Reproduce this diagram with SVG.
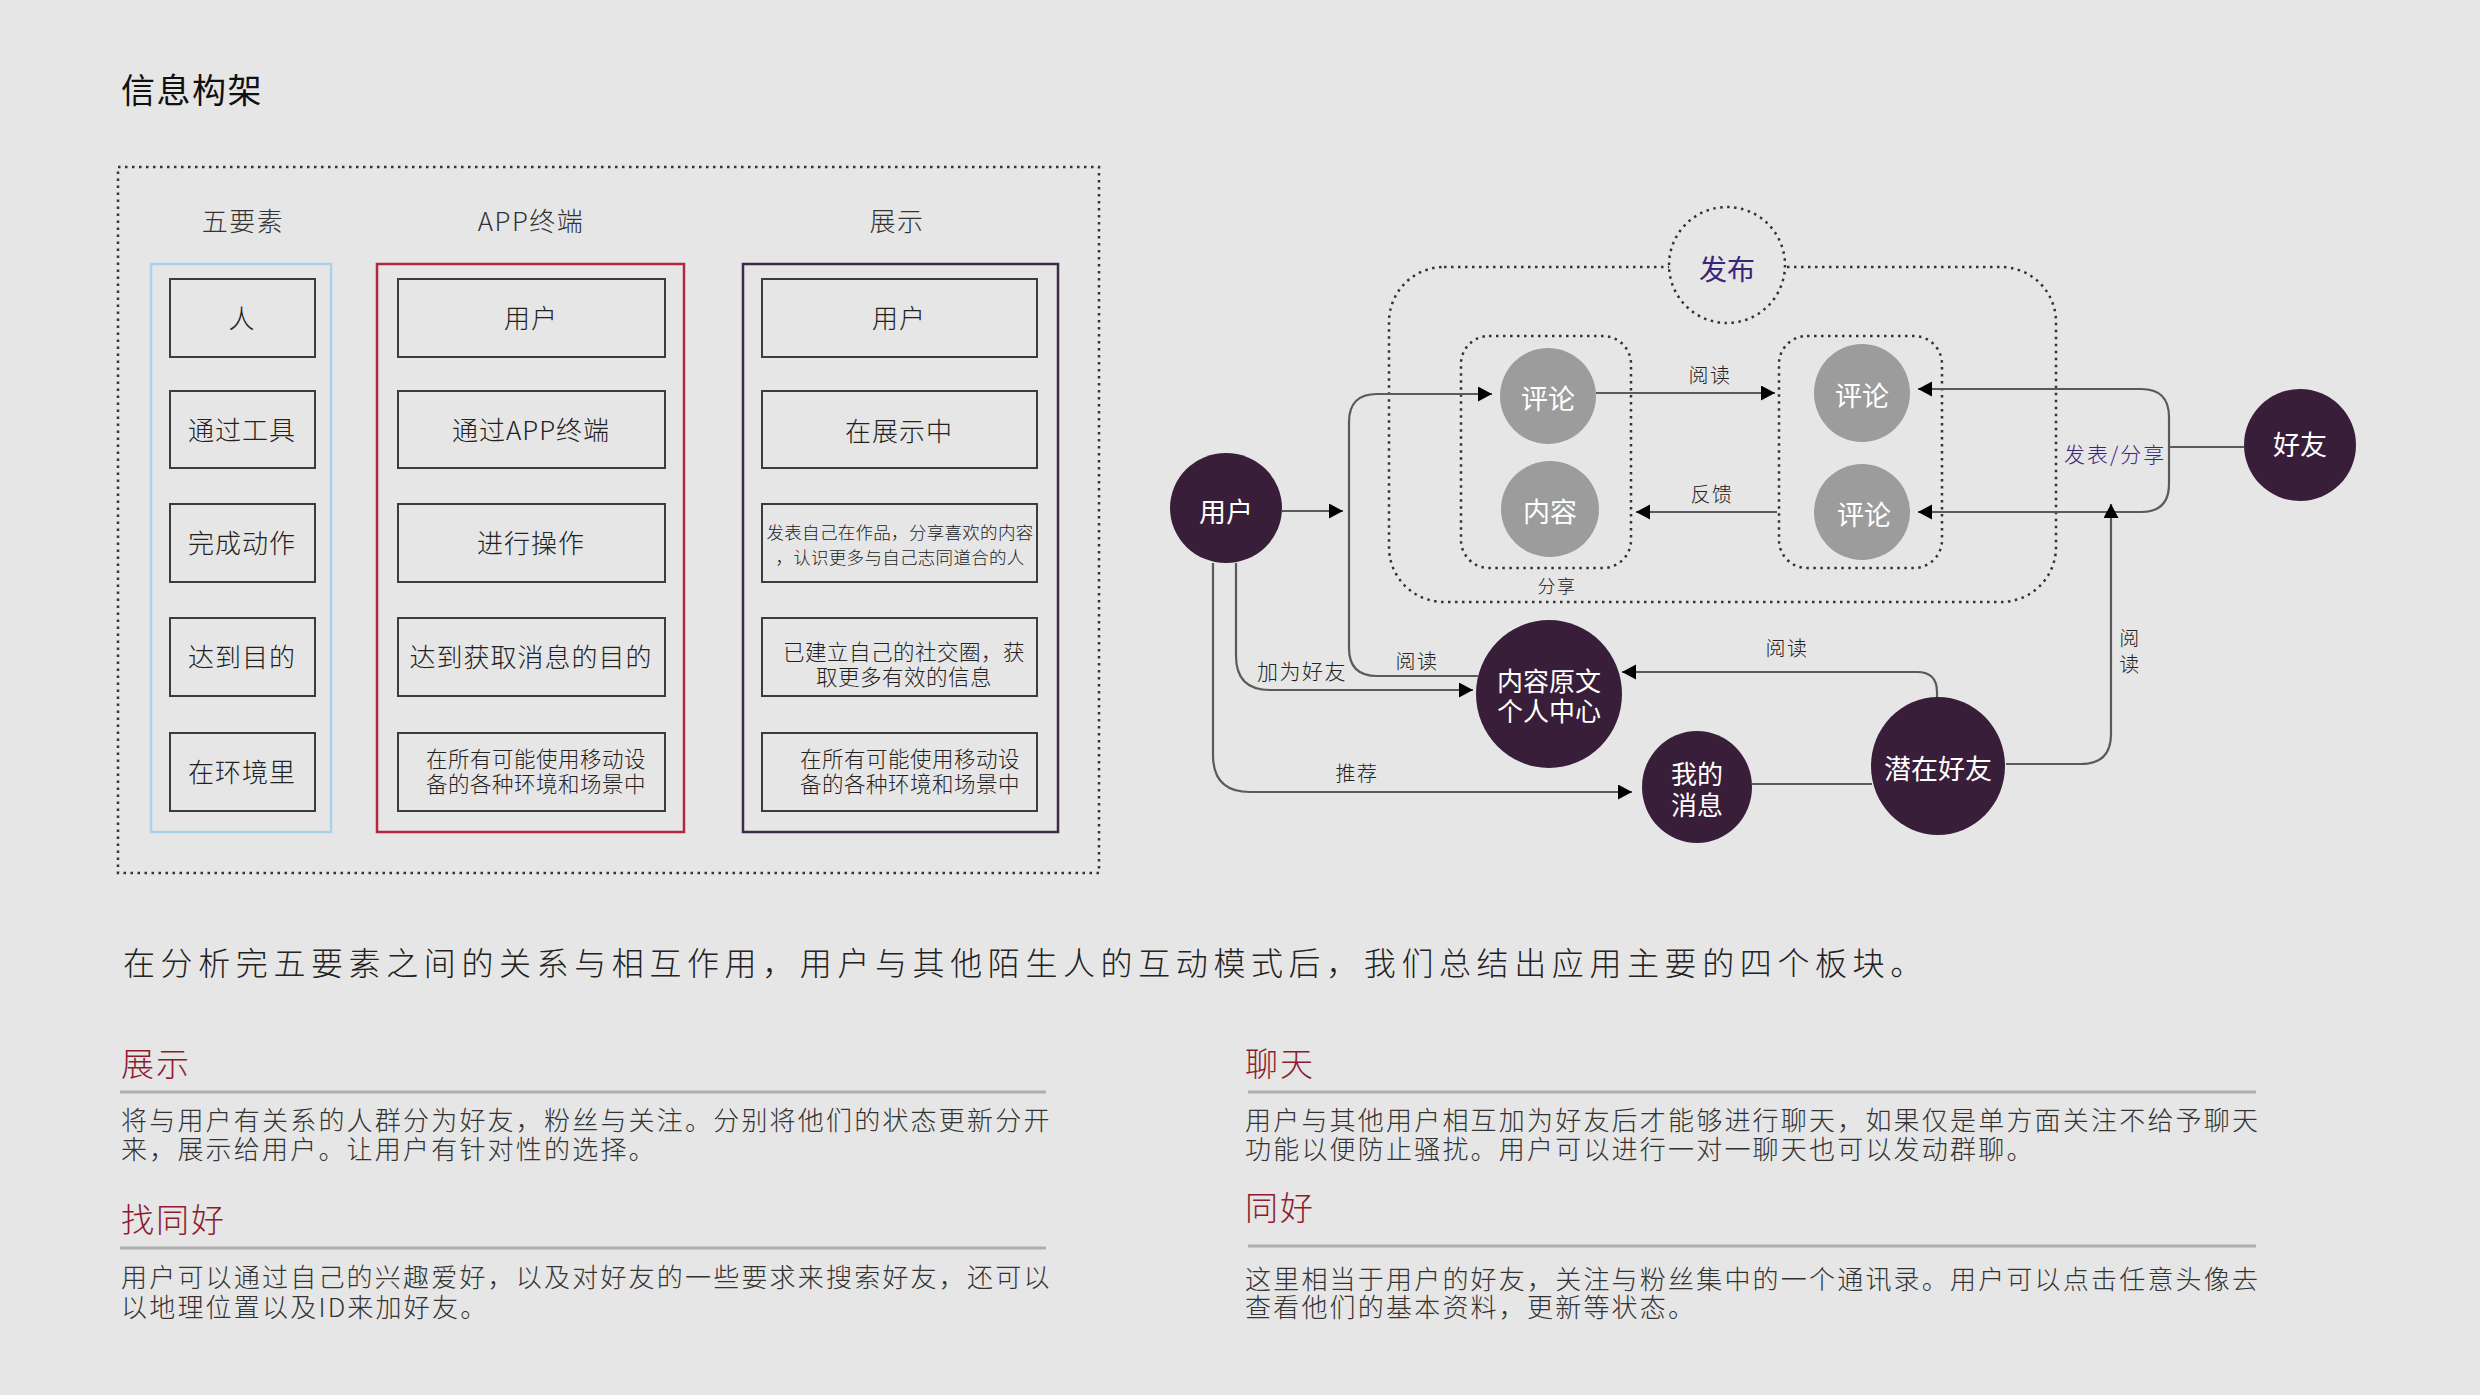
<svg xmlns="http://www.w3.org/2000/svg" width="2480" height="1395" viewBox="0 0 2480 1395">
<defs>
<style>
text{font-family:"Noto Sans CJK SC","Noto Sans",sans-serif;dominant-baseline:central;font-weight:300;}
.hdr{font-size:26px;letter-spacing:1.5px;fill:#333;text-anchor:middle;}
.bx{fill:none;stroke:#3c3c3c;stroke-width:2;}
.bt{font-size:26px;letter-spacing:1px;fill:#222;text-anchor:middle;}
.bs{font-size:21.5px;letter-spacing:0.5px;fill:#222;text-anchor:middle;}
.dot{fill:none;stroke:#333;stroke-width:2.5;stroke-dasharray:2.5 4.5;}
.dk{fill:#391e3a;}
.gr{fill:#9c9c9c;}
.wt{fill:#fff;font-size:27px;text-anchor:middle;font-weight:400;}
.w2{fill:#fff;font-size:26px;text-anchor:middle;font-weight:400;}
.cn{fill:none;stroke:#5a5a5a;stroke-width:2.2;}
.lb{font-size:20px;letter-spacing:1.5px;fill:#222;text-anchor:middle;}
.h2{font-size:33px;letter-spacing:2px;fill:#8c1c2e;}
.p{font-size:26px;letter-spacing:2.2px;fill:#333;}
.sep{stroke:#aeaeae;stroke-width:3;}
</style>
<marker id="ar" markerUnits="userSpaceOnUse" markerWidth="15" markerHeight="16" refX="14" refY="7.5" orient="auto">
<path d="M0,0 L14,7.5 L0,15 z" fill="#000"/>
</marker>
</defs>
<rect width="2480" height="1395" fill="#e6e6e6"/>

<text x="121" y="88" font-size="34" letter-spacing="1.5" fill="#111" style="font-weight:400">信息构架</text>

<g id="panel">
<rect x="118" y="167" width="981" height="706" class="dot"/>
<text x="243" y="219" class="hdr">五要素</text>
<text x="531" y="219" class="hdr">APP终端</text>
<text x="897" y="219" class="hdr">展示</text>
<rect x="151" y="264" width="180" height="568" fill="none" stroke="#a9d2ec" stroke-width="2.5"/>
<rect x="377" y="264" width="307" height="568" fill="none" stroke="#b3283d" stroke-width="2.5"/>
<rect x="743" y="264" width="315" height="568" fill="none" stroke="#3b2a48" stroke-width="2.5"/>
</g>

<g id="col1">
<rect x="170" y="279" width="145" height="78" class="bx"/><text x="242" y="316" class="bt">人</text>
<rect x="170" y="391" width="145" height="77" class="bx"/><text x="242" y="428" class="bt">通过工具</text>
<rect x="170" y="504" width="145" height="78" class="bx"/><text x="242" y="541" class="bt">完成动作</text>
<rect x="170" y="618" width="145" height="78" class="bx"/><text x="242" y="655" class="bt">达到目的</text>
<rect x="170" y="733" width="145" height="78" class="bx"/><text x="242" y="770" class="bt">在环境里</text>
</g>
<g id="col2">
<rect x="398" y="279" width="267" height="78" class="bx"/><text x="531" y="316" class="bt">用户</text>
<rect x="398" y="391" width="267" height="77" class="bx"/><text x="531" y="428" class="bt">通过APP终端</text>
<rect x="398" y="504" width="267" height="78" class="bx"/><text x="531" y="541" class="bt">进行操作</text>
<rect x="398" y="618" width="267" height="78" class="bx"/><text x="531" y="655" class="bt">达到获取消息的目的</text>
<rect x="398" y="733" width="267" height="78" class="bx"/>
<text x="536" y="757" class="bs">在所有可能使用移动设</text>
<text x="536" y="782" class="bs">备的各种环境和场景中</text>
</g>
<g id="col3">
<rect x="762" y="279" width="275" height="78" class="bx"/><text x="899" y="316" class="bt">用户</text>
<rect x="762" y="391" width="275" height="77" class="bx"/><text x="899" y="429" class="bt">在展示中</text>
<rect x="762" y="504" width="275" height="78" class="bx"/>
<text x="900" y="531" class="bt" style="font-size:17.5px;letter-spacing:0.3px">发表自己在作品，分享喜欢的内容</text>
<text x="900" y="556" class="bt" style="font-size:17.5px;letter-spacing:0.3px">，认识更多与自己志同道合的人</text>
<rect x="762" y="618" width="275" height="78" class="bx"/>
<text x="904" y="650" class="bs">已建立自己的社交圈，获</text>
<text x="904" y="675" class="bs">取更多有效的信息</text>
<rect x="762" y="733" width="275" height="78" class="bx"/>
<text x="910" y="757" class="bs">在所有可能使用移动设</text>
<text x="910" y="782" class="bs">备的各种环境和场景中</text>
</g>

<g id="groups">
<rect x="1389" y="267" width="667" height="335" rx="55" ry="55" class="dot"/>
<rect x="1461" y="336" width="170" height="232" rx="28" ry="28" class="dot"/>
<rect x="1779" y="336" width="163" height="232" rx="28" ry="28" class="dot"/>
</g>
<g id="n-fabu">
<ellipse cx="1727" cy="265" rx="58" ry="58" class="dot" style="fill:#e6e6e6"/>
<text x="1727" y="268" text-anchor="middle" font-size="28" fill="#3b2577" style="font-weight:400">发布</text>
</g>

<g id="connectors">
<path class="cn" d="M1282,511 L1343,511" marker-end="url(#ar)"/>
<path class="cn" d="M1478,676 L1377,676 Q1349,676 1349,648 L1349,422 Q1349,394 1377,394 L1492,394" marker-end="url(#ar)"/>
<path class="cn" d="M1236,563 L1236,656 Q1236,690 1270,690 L1473,690" marker-end="url(#ar)"/>
<path class="cn" d="M1213,563 L1213,755 Q1213,792 1250,792 L1632,792" marker-end="url(#ar)"/>
<path class="cn" d="M1596,393 L1775,393" marker-end="url(#ar)"/>
<path class="cn" d="M1777,512 L1636,512" marker-end="url(#ar)"/>
<path class="cn" d="M2244,447 L2169,447"/>
<path class="cn" d="M2169,447 L2169,417 Q2169,389 2141,389 L1918,389" marker-end="url(#ar)"/>
<path class="cn" d="M2169,447 L2169,484 Q2169,512 2141,512 L1918,512" marker-end="url(#ar)"/>
<path class="cn" d="M2006,764 L2081,764 Q2111,764 2111,734 L2111,504" marker-end="url(#ar)"/>
<path class="cn" d="M1937,699 L1937,692 Q1937,672 1917,672 L1622,672" marker-end="url(#ar)"/>
<path class="cn" d="M1752,784 L1872,784"/>
<text x="1710" y="374" class="lb">阅读</text>
<text x="1712" y="493" class="lb">反馈</text>
<text x="1557" y="585" class="lb" style="font-size:18px">分享</text>
<text x="2064" y="453" font-size="21" letter-spacing="2" fill="#3b2577">发表/分享</text>
<text x="2130" y="637" class="lb">阅</text>
<text x="2130" y="663" class="lb">读</text>
<text x="1787" y="647" class="lb">阅读</text>
<text x="1302" y="670" class="lb" style="font-size:21px">加为好友</text>
<text x="1417" y="660" class="lb">阅读</text>
<text x="1357" y="772" class="lb">推荐</text>
</g>

<g id="n-user"><ellipse cx="1226" cy="508" rx="56" ry="55" class="dk"/><text x="1226" y="510" class="wt">用户</text></g>
<g id="n-pl1"><ellipse cx="1548" cy="396" rx="48" ry="48" class="gr"/><text x="1548" y="397" class="wt">评论</text></g>
<g id="n-nr"><ellipse cx="1550" cy="509" rx="49" ry="48" class="gr"/><text x="1550" y="510" class="wt">内容</text></g>
<g id="n-pl2"><ellipse cx="1862" cy="393" rx="48" ry="49" class="gr"/><text x="1862" y="394" class="wt">评论</text></g>
<g id="n-pl3"><ellipse cx="1862" cy="512" rx="48" ry="48" class="gr"/><text x="1864" y="513" class="wt">评论</text></g>
<g id="n-hy"><ellipse cx="2300" cy="445" rx="56" ry="56" class="dk"/><text x="2300" y="443" class="wt">好友</text></g>
<g id="n-center"><ellipse cx="1549" cy="694" rx="73" ry="74" class="dk"/><text x="1549" y="679" class="w2">内容原文</text><text x="1549" y="709" class="w2">个人中心</text></g>
<g id="n-msg"><ellipse cx="1697" cy="787" rx="55" ry="56" class="dk"/><text x="1697" y="772" class="w2">我的</text><text x="1697" y="803" class="w2">消息</text></g>
<g id="n-qz"><ellipse cx="1938" cy="766" rx="67" ry="69" class="dk"/><text x="1938" y="767" class="wt">潜在好友</text></g>

<g id="summary">
<text x="123" y="961" font-size="32" letter-spacing="5.6" fill="#222">在分析完五要素之间的关系与相互作用，用户与其他陌生人的互动模式后，我们总结出应用主要的四个板块。</text>
<text x="121" y="1062" class="h2">展示</text>
<line x1="120" y1="1092" x2="1046" y2="1092" class="sep"/>
<text x="121" y="1118" class="p">将与用户有关系的人群分为好友，粉丝与关注。分别将他们的状态更新分开</text>
<text x="121" y="1147" class="p">来，展示给用户。让用户有针对性的选择。</text>
<text x="121" y="1218" class="h2">找同好</text>
<line x1="120" y1="1248" x2="1046" y2="1248" class="sep"/>
<text x="121" y="1275" class="p">用户可以通过自己的兴趣爱好，以及对好友的一些要求来搜索好友，还可以</text>
<text x="121" y="1305" class="p">以地理位置以及ID来加好友。</text>
<text x="1245" y="1062" class="h2">聊天</text>
<line x1="1248" y1="1092" x2="2256" y2="1092" class="sep"/>
<text x="1245" y="1118" class="p">用户与其他用户相互加为好友后才能够进行聊天，如果仅是单方面关注不给予聊天</text>
<text x="1245" y="1147" class="p">功能以便防止骚扰。用户可以进行一对一聊天也可以发动群聊。</text>
<text x="1245" y="1206" class="h2">同好</text>
<line x1="1248" y1="1246" x2="2256" y2="1246" class="sep"/>
<text x="1245" y="1277" class="p">这里相当于用户的好友，关注与粉丝集中的一个通讯录。用户可以点击任意头像去</text>
<text x="1245" y="1305" class="p">查看他们的基本资料，更新等状态。</text>
</g>
</svg>
